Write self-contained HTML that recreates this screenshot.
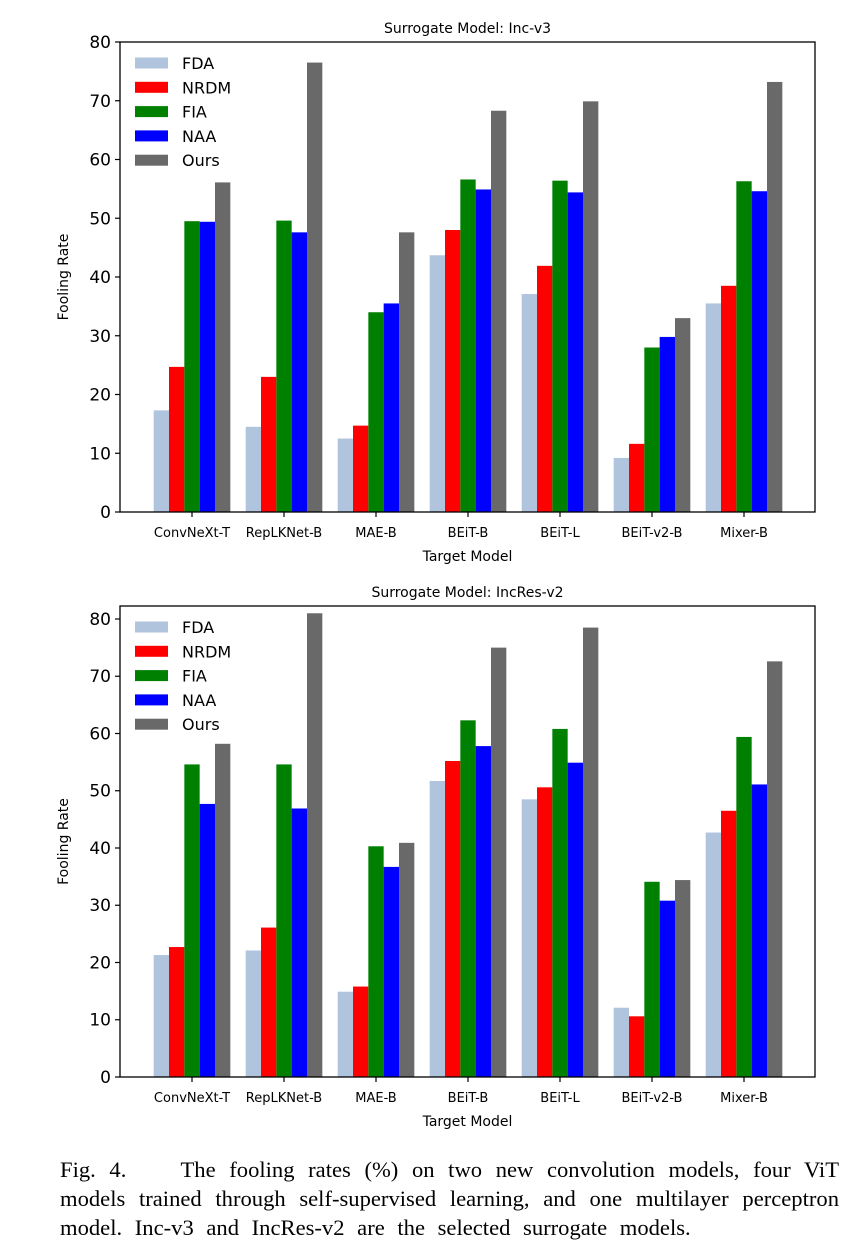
<!DOCTYPE html>
<html><head><meta charset="utf-8"><style>
body{margin:0;background:#fff;width:865px;height:1247px;overflow:hidden;position:relative}
svg{position:absolute;left:0;top:0}
.cap{position:absolute;left:60px;top:1155px;width:779px;font-family:"Liberation Serif",serif;font-size:22.6px;line-height:29px;color:#000}
.cap .ln{display:block;white-space:nowrap;text-align:justify;text-align-last:justify}
.cap .last{text-align-last:left;word-spacing:7px}
</style></head><body>
<svg id="chart" width="865" height="1150" font-family="DejaVu Sans, Liberation Sans, sans-serif"></svg>
<div class="cap"><span class="ln">Fig. 4.&nbsp;&nbsp;&nbsp; The fooling rates (%) on two new convolution models, four ViT</span><span class="ln">models trained through self-supervised learning, and one multilayer perceptron</span><span class="ln last">model. Inc-v3 and IncRes-v2 are the selected surrogate models.</span></div>
<script>
const categories=["ConvNeXt-T","RepLKNet-B","MAE-B","BEiT-B","BEiT-L","BEiT-v2-B","Mixer-B"];
const seriesNames=["FDA","NRDM","FIA","NAA","Ours"];
const seriesColors=["#b0c4de","#ff0000","#008000","#0000ff","#696969"];
const topFDA=[17.3,14.5,12.5,43.7,37.1,9.2,35.5];
const topNRDM=[24.7,23.0,14.7,48.0,41.9,11.6,38.5];
const topFIA=[49.5,49.6,34.0,56.6,56.4,28.0,56.3];
const topNAA=[49.4,47.6,35.5,54.9,54.4,29.8,54.6];
const topOurs=[56.1,76.5,47.6,68.3,69.9,33.0,73.2];
const botFDA=[21.3,22.1,14.9,51.7,48.5,12.1,42.7];
const botNRDM=[22.7,26.1,15.8,55.2,50.6,10.6,46.5];
const botFIA=[54.6,54.6,40.3,62.3,60.8,34.1,59.4];
const botNAA=[47.7,46.9,36.7,57.8,54.9,30.8,51.1];
const botOurs=[58.2,81.0,40.9,75.0,78.5,34.4,72.6];
const yTicks=[0,10,20,30,40,50,60,70,80];
const svg=document.getElementById('chart');
const NS='http://www.w3.org/2000/svg';
function mk(tag,attrs,parent){const e=document.createElementNS(NS,tag);for(const k in attrs)e.setAttribute(k,attrs[k]);(parent||svg).appendChild(e);return e;}
function drawChart(cfg,series,name){
  const g=mk('g',{});
  
  
  const L=120,R=815,T=cfg.top,B=cfg.bottom;
  const y=v=>B-(v/cfg.ymax)*(B-T);
  const x=i=>192+i*92;
  const bw=15.33;
  const t=mk('text',{x:(L+R)/2,y:T-9,'text-anchor':'middle','font-size':14},g);t.textContent=cfg.title;
  
  
  series.forEach((vals,s)=>{vals.forEach((v,i)=>{
    const r=mk('rect',{x:x(i)+(s-2.5)*bw,y:y(v),width:bw,height:B-y(v),fill:seriesColors[s]},g);
    
    
  });});
  mk('rect',{x:L,y:T,width:R-L,height:B-T,fill:'none',stroke:'#000','stroke-width':1.3},g);
  yTicks.forEach(v=>{
    mk('line',{x1:L-5,x2:L,y1:y(v),y2:y(v),stroke:'#000','stroke-width':1.2},g);
    const tt=mk('text',{x:L-9,y:y(v)+6,'text-anchor':'end','font-size':17},g);tt.textContent=v;
    
    
  });
  categories.forEach((c,i)=>{
    mk('line',{x1:x(i),x2:x(i),y1:B,y2:B+5,stroke:'#000','stroke-width':1.2},g);
    const tt=mk('text',{x:x(i),y:B+25,'text-anchor':'middle','font-size':13},g);tt.textContent=c;
    
    
  });
  const xl=mk('text',{x:(L+R)/2,y:B+49,'text-anchor':'middle','font-size':14},g);xl.textContent='Target Model';
  
  
  const yl=mk('text',{x:0,y:0,'text-anchor':'middle','font-size':14,transform:`translate(68,${(T+B)/2}) rotate(-90)`},g);yl.textContent='Fooling Rate';
  
  
  seriesNames.forEach((n,s)=>{
    const cy=T+21+s*24.3;
    const le=mk('g',{},g);
    
    
    mk('rect',{x:135,y:cy-5.5,width:33,height:11,fill:seriesColors[s]},le);
    const lt=mk('text',{x:182,y:cy+6,'font-size':16},le);lt.textContent=n;
  });
}
drawChart({top:42,bottom:512,ymax:80,title:'Surrogate Model: Inc-v3'},[topFDA,topNRDM,topFIA,topNAA,topOurs],'chart-inc-v3');
drawChart({top:606,bottom:1077,ymax:82.27,title:'Surrogate Model: IncRes-v2'},[botFDA,botNRDM,botFIA,botNAA,botOurs],'chart-incres-v2');
</script>
</body></html>
